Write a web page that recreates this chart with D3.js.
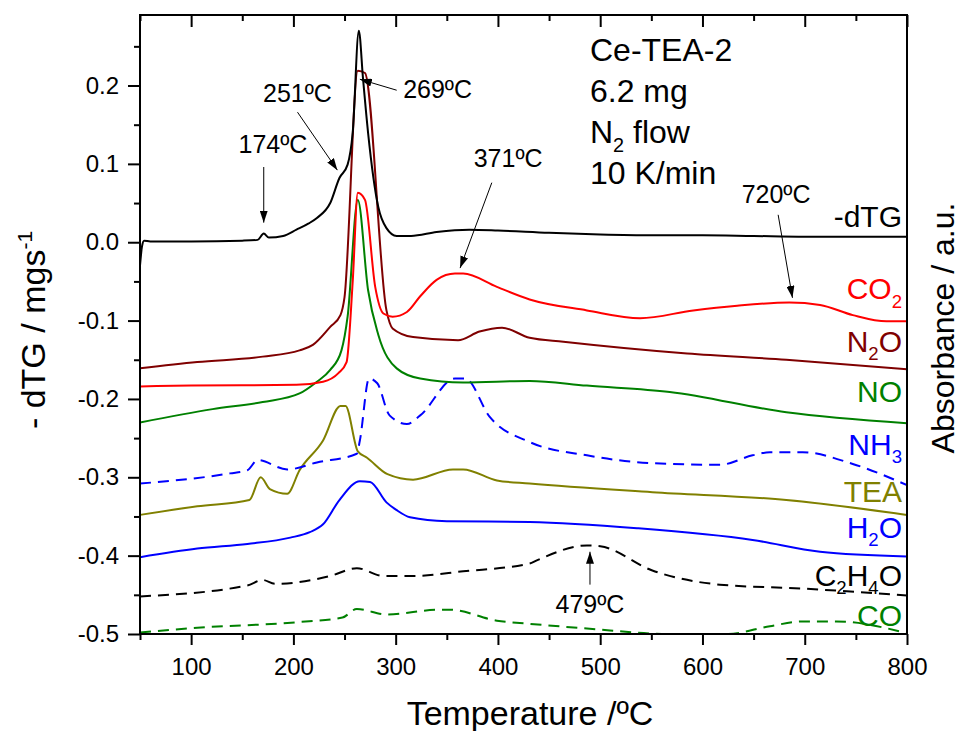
<!DOCTYPE html>
<html>
<head>
<meta charset="utf-8">
<script src="https://cdn.jsdelivr.net/npm/d3@7"></script>
<style>
    body { margin: 0; background: #fff; }
    svg text { font-family: Arial, "Liberation Sans", sans-serif; }
</style>
</head>
<body>
<svg id="chart" width="962" height="731"></svg>
<script>
"use strict";

// temperature (ºC), value on the shared -dTG axis (gas traces are offset absorbance)
const dtg = [[50,-0.03],[52,-0.005],[54,0.002],[60,0.001],[100,0.001],[150,0.002],[165,0.003],[171,0.011],[176,0.006],[190,0.008],[203,0.016],[215,0.024],[223,0.031],[236,0.05],[245,0.082],[253,0.099],[258,0.14],[264,0.27],[268,0.21],[273,0.14],[283,0.045],[291,0.018],[301,0.008],[315,0.008],[340,0.013],[372,0.016],[400,0.015],[450,0.012],[500,0.010],[550,0.009],[600,0.009],[650,0.008],[700,0.007],[750,0.007],[800,0.007]];
const co2 = [[50,-0.184],[100,-0.183],[203,-0.182],[229,-0.178],[244,-0.167],[252,-0.153],[258,-0.05],[263,0.063],[270,0.054],[280,-0.057],[288,-0.091],[297,-0.095],[311,-0.089],[324,-0.069],[340,-0.048],[358,-0.040],[366,-0.040],[399,-0.057],[431,-0.073],[487,-0.087],[539,-0.097],[591,-0.087],[634,-0.081],[685,-0.077],[715,-0.080],[747,-0.093],[780,-0.101],[800,-0.101]];
const n2o = [[50,-0.161],[106,-0.153],[170,-0.146],[206,-0.138],[219,-0.131],[236,-0.108],[246,-0.093],[250,-0.07],[263,0.219],[270,0.216],[291,-0.087],[297,-0.11],[317,-0.121],[361,-0.125],[382,-0.114],[404,-0.109],[431,-0.122],[464,-0.127],[585,-0.142],[682,-0.15],[800,-0.162]];
const no = [[50,-0.23],[121,-0.213],[170,-0.204],[206,-0.193],[223,-0.178],[236,-0.163],[247,-0.138],[253,-0.095],[263,0.054],[273,-0.061],[283,-0.118],[301,-0.161],[324,-0.174],[366,-0.179],[431,-0.177],[487,-0.183],[568,-0.191],[682,-0.217],[800,-0.231]];
const nh3 = [[50,-0.308],[138,-0.295],[155,-0.291],[165,-0.278],[194,-0.29],[223,-0.281],[262,-0.27],[265,-0.253],[274,-0.174],[282,-0.18],[294,-0.221],[311,-0.232],[324,-0.221],[358,-0.174],[368,-0.174],[392,-0.223],[431,-0.255],[487,-0.272],[551,-0.282],[617,-0.284],[649,-0.272],[666,-0.268],[698,-0.268],[747,-0.283],[800,-0.31]];
const tea = [[50,-0.348],[106,-0.337],[157,-0.329],[168,-0.3],[177,-0.315],[194,-0.321],[206,-0.291],[229,-0.253],[246,-0.209],[251,-0.209],[263,-0.267],[272,-0.275],[292,-0.296],[317,-0.303],[356,-0.29],[366,-0.29],[399,-0.304],[431,-0.308],[551,-0.319],[682,-0.329],[800,-0.348]];
const h2o = [[50,-0.402],[106,-0.391],[155,-0.385],[197,-0.377],[216,-0.37],[229,-0.36],[245,-0.329],[265,-0.305],[275,-0.306],[291,-0.332],[301,-0.342],[314,-0.351],[350,-0.356],[431,-0.357],[536,-0.365],[649,-0.38],[715,-0.395],[800,-0.401]];
const c2h4o = [[50,-0.452],[155,-0.438],[170,-0.431],[182,-0.436],[236,-0.426],[262,-0.416],[288,-0.426],[317,-0.426],[366,-0.42],[431,-0.41],[438,-0.406],[487,-0.387],[500,-0.388],[551,-0.419],[617,-0.437],[698,-0.442],[800,-0.451]];
const co = [[50,-0.498],[106,-0.492],[203,-0.485],[248,-0.479],[262,-0.468],[291,-0.475],[343,-0.469],[353,-0.469],[399,-0.483],[431,-0.487],[487,-0.493],[568,-0.5],[624,-0.5],[666,-0.49],[698,-0.484],[731,-0.484],[800,-0.499]];

const yTicks = [-0.5, -0.4, -0.3, -0.2, -0.1, 0.0, 0.1, 0.2];
const xTicks = [100, 200, 300, 400, 500, 600, 700, 800];

// name parts: [text, "sub"|""]
const series = [
    { data: dtg,   color: "#000000", dash: null,   label: [["-dTG", ""]],                       labelY: 0.020 },
    { data: co2,   color: "#ff0000", dash: null,   label: [["CO", ""], ["2", "sub"]],           labelY: -0.073 },
    { data: n2o,   color: "#7f0000", dash: null,   label: [["N", ""], ["2", "sub"], ["O", ""]], labelY: -0.140 },
    { data: no,    color: "#008000", dash: null,   label: [["NO", ""]],                         labelY: -0.204 },
    { data: nh3,   color: "#0000ff", dash: "11,7", label: [["NH", ""], ["3", "sub"]],           labelY: -0.271 },
    { data: tea,   color: "#808000", dash: null,   label: [["TEA", ""]],                        labelY: -0.332 },
    { data: h2o,   color: "#0000ff", dash: null,   label: [["H", ""], ["2", "sub"], ["O", ""]], labelY: -0.377 },
    { data: c2h4o, color: "#000000", dash: "11,7", label: [["C", ""], ["2", "sub"], ["H", ""], ["4", "sub"], ["O", ""]], labelY: -0.439 },
    { data: co,    color: "#008000", dash: "11,7", label: [["CO", ""]],                         labelY: -0.490 }
];

// annotation: text, text anchor point [T, value], arrow from [T, value] to [T, value]
const notes = [
    { text: "174ºC", at: [180, 0.114], from: [171, 0.096], to: [171, 0.025] },
    { text: "251ºC", at: [204, 0.179], from: [204, 0.166], to: [243, 0.092] },
    { text: "269ºC", at: [341, 0.184], from: [301, 0.194], to: [265, 0.208] },
    { text: "371ºC", at: [410, 0.096], from: [394, 0.076], to: [363, -0.033] },
    { text: "720ºC", at: [672, 0.050], from: [674, 0.035], to: [688, -0.071] },
    { text: "479ºC", at: [490, -0.473], from: [490, -0.437], to: [490, -0.395] }
];

const infoLines = [[["Ce-TEA-2", ""]], [["6.2 mg", ""]], [["N", ""], ["2", "sub"], [" flow", ""]], [["10 K/min", ""]]];

const margin = { top: 15, right: 55, bottom: 97, left: 140 };
const width = 962 - margin.left - margin.right;
const height = 731 - margin.top - margin.bottom;

const svg = d3.select("#chart");
const g = svg.append("g").attr("transform", `translate(${margin.left},${margin.top})`);

const x = d3.scaleLinear().domain([50, 800]).range([0, width]);
const y = d3.scaleLinear().domain([-0.5, 0.29]).range([height, 0]);

// arrow head
const defs = svg.append("defs");
defs.append("marker")
    .attr("id", "arrow")
    .attr("viewBox", "0 0 12 8")
    .attr("refX", 12).attr("refY", 4)
    .attr("markerWidth", 12).attr("markerHeight", 8)
    .attr("markerUnits", "userSpaceOnUse")
    .attr("orient", "auto")
    .append("path").attr("d", "M0,0 L12,4 L0,8 Z").attr("fill", "#000");

defs.append("clipPath").attr("id", "clip")
    .append("rect").attr("x", 0).attr("y", 0).attr("width", width).attr("height", height);

const line = d3.line()
    .x(d => x(d[0]))
    .y(d => y(d[1]))
    .curve(d3.curveMonotoneX);

const plot = g.append("g").attr("clip-path", "url(#clip)");
plot.selectAll("path.series")
    .data(series.slice().reverse())
    .enter()
    .append("path")
    .attr("class", "series")
    .attr("d", d => line(d.data))
    .attr("fill", "none")
    .attr("stroke", d => d.color)
    .attr("stroke-width", 2)
    .attr("stroke-dasharray", d => d.dash);

function addRich(sel, parts, size) {
    parts.forEach((p, i) => {
        const prev = i > 0 ? parts[i - 1][1] : "";
        let dy = 0;
        if (p[1] === "sub" && prev !== "sub") dy = size * 0.27;
        if (p[1] !== "sub" && prev === "sub") dy = -size * 0.27;
        sel.append("tspan")
            .attr("dy", dy)
            .attr("font-size", p[1] === "sub" ? size * 0.62 : size)
            .text(p[0]);
    });
}

// series labels on the right
series.forEach(s => {
    const t = g.append("text")
        .attr("x", width - 5)
        .attr("y", y(s.labelY))
        .attr("text-anchor", "end")
        .attr("fill", s.color)
        .attr("font-size", 30);
    addRich(t, s.label, 30);
});

// annotations
notes.forEach(n => {
    g.append("text")
        .attr("x", x(n.at[0]))
        .attr("y", y(n.at[1]))
        .attr("text-anchor", "middle")
        .attr("font-size", 25)
        .text(n.text);
    g.append("line")
        .attr("x1", x(n.from[0])).attr("y1", y(n.from[1]))
        .attr("x2", x(n.to[0])).attr("y2", y(n.to[1]))
        .attr("stroke", "#000")
        .attr("stroke-width", 1)
        .attr("marker-end", "url(#arrow)");
});

// sample info
infoLines.forEach((parts, i) => {
    const t = g.append("text")
        .attr("x", x(490))
        .attr("y", 46 + i * 41)
        .attr("font-size", 32);
    addRich(t, parts, 32);
});

// axes
const minorX = d3.range(50, 801, 100);
const minorY = d3.range(-0.45, 0.29, 0.1);

const bottomAxis = g.append("g").attr("transform", `translate(0,${height})`);
bottomAxis.call(d3.axisBottom(x).tickValues(xTicks).tickSize(11).tickPadding(13).tickFormat(d3.format("d")));
bottomAxis.append("g").call(d3.axisBottom(x).tickValues(minorX).tickSize(6).tickFormat(""));

const leftAxis = g.append("g");
leftAxis.call(d3.axisLeft(y).tickValues(yTicks).tickSize(12).tickPadding(9).tickFormat(d => d.toFixed(1)));
leftAxis.append("g").call(d3.axisLeft(y).tickValues(minorY).tickSize(6).tickFormat(""));

const topAxis = g.append("g");
topAxis.call(d3.axisBottom(x).tickValues(xTicks).tickSize(12).tickFormat(""));
topAxis.append("g").call(d3.axisBottom(x).tickValues(minorX).tickSize(6).tickFormat(""));

g.selectAll(".domain").remove();
g.selectAll(".tick line").attr("stroke", "#000").attr("stroke-width", 2);
g.selectAll(".tick text").attr("font-size", 24).attr("fill", "#000");

g.append("rect")
    .attr("width", width).attr("height", height)
    .attr("fill", "none").attr("stroke", "#000").attr("stroke-width", 2);

// axis titles
svg.append("text")
    .attr("x", 530)
    .attr("y", 725)
    .attr("text-anchor", "middle")
    .attr("font-size", 34)
    .text("Temperature /ºC");

const yl = svg.append("text")
    .attr("transform", `translate(45,330) rotate(-90)`)
    .attr("text-anchor", "middle")
    .attr("font-size", 34);
yl.append("tspan").text("- dTG / mgs");
yl.append("tspan").attr("dy", -13).attr("font-size", 21).text("-1");

svg.append("text")
    .attr("transform", `translate(954,328) rotate(-90)`)
    .attr("text-anchor", "middle")
    .attr("font-size", 32)
    .text("Absorbance / a.u.");
</script>
</body>
</html>
